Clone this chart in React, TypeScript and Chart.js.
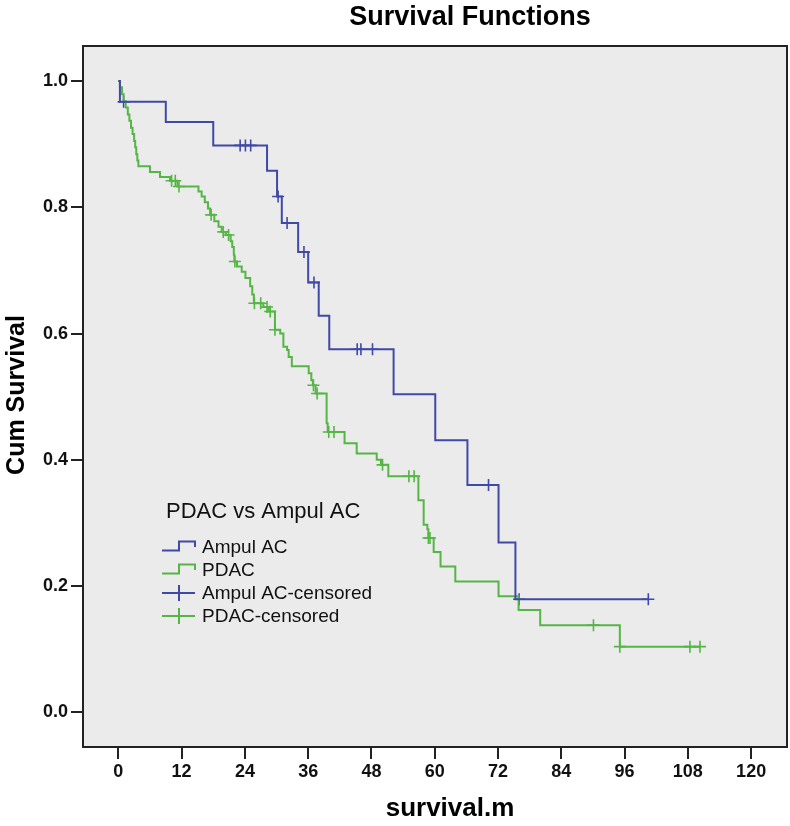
import { useEffect, useRef } from 'react';
import { Chart, registerables } from 'chart.js';

Chart.register(...registerables);

const FONT = "'Liberation Sans', Arial, sans-serif";
const BLUE = '#4049A6';
const GREEN = '#55B545';

const X_TICKS = [0, 12, 24, 36, 48, 60, 72, 84, 96, 108, 120];
const Y_TICKS = [0, 0.2, 0.4, 0.6, 0.8, 1.0];

// Ampul AC: event times (months) and survival after each step
const AMPUL_TIME = [0, 0.3, 9, 18, 28.2, 30.1, 31, 34.1, 36, 38, 40, 52.2, 60.1, 66.2, 72.1, 75.3, 100.5];
const AMPUL_SURV = [1.0, 0.967, 0.935, 0.898, 0.858, 0.817, 0.775, 0.729, 0.681, 0.628, 0.575, 0.504, 0.431, 0.36, 0.269, 0.179, 0.179];
const AMPUL_CENSORED = [1, 23.1, 24.1, 25.1, 30.3, 32, 35.2, 37.1, 45.3, 46, 48.2, 70.2, 76, 100.5];

// PDAC
const PDAC_TIME = [
  0, 0.3, 0.7, 1.0, 1.4, 1.8, 2.1, 2.4, 2.7, 3.0, 3.2, 3.4, 3.6, 3.8, 6.0, 7.9, 9.8, 11.2,
  15.2, 15.8, 16.4, 17.0, 17.4, 18.2, 19.0, 19.6, 20.4, 21.3, 21.6, 21.9, 22.0, 22.5, 23.4,
  24.1, 25.0, 25.4, 25.7, 27.5, 28.5, 29.7, 30.7, 31.3, 32.0, 32.3, 32.9, 36.1, 36.6, 36.9,
  37.4, 39.5, 39.7, 42.9, 45.2, 49.0, 49.8, 51.2, 56.9, 57.9, 58.6, 58.8, 59.8, 61.1, 63.9,
  72.1, 75.9, 80.0, 95.1, 110.3,
];
const PDAC_SURV = [
  1.0, 0.99, 0.979, 0.968, 0.958, 0.947, 0.937, 0.926, 0.916, 0.905, 0.895, 0.884, 0.874, 0.865, 0.856, 0.848, 0.842, 0.833,
  0.825, 0.817, 0.808, 0.798, 0.788, 0.778, 0.769, 0.761, 0.756, 0.746, 0.737, 0.725, 0.714, 0.706, 0.698,
  0.688, 0.675, 0.662, 0.648, 0.642, 0.635, 0.606, 0.6, 0.579, 0.574, 0.563, 0.548, 0.537, 0.526, 0.518,
  0.505, 0.458, 0.444, 0.426, 0.41, 0.4, 0.392, 0.374, 0.336, 0.297, 0.29, 0.276, 0.254, 0.231, 0.207,
  0.184, 0.162, 0.138, 0.104, 0.104,
];
const PDAC_CENSORED = [
  10.1, 10.8, 11.5, 17.6, 19.9, 20.9, 22.1, 25.8, 27.0, 28.2, 28.8, 29.7, 37.0, 37.7, 39.9, 40.9,
  50.1, 55.1, 56.1, 58.8, 59.1, 90.1, 95.1, 108.4, 110.3,
];

const LEGEND_TITLE = 'PDAC vs Ampul AC';
const LEGEND_LABELS = ['Ampul AC', 'PDAC', 'Ampul AC-censored', 'PDAC-censored'];

function survAt(times: number[], surv: number[], t: number) {
  let v = surv[0];
  for (let i = 0; i < times.length; i++) if (times[i] <= t) v = surv[i];
  return v;
}

const framePlugin = {
  id: 'frame',
  beforeDraw(chart: Chart) {
    const { ctx, chartArea: a } = chart;
    ctx.save();
    ctx.fillStyle = '#EBEBEB';
    ctx.fillRect(a.left, a.top, a.right - a.left, a.bottom - a.top);
    ctx.restore();
  },
  afterDraw(chart: Chart) {
    const { ctx, chartArea: a } = chart;
    ctx.save();
    ctx.strokeStyle = '#222';
    ctx.lineWidth = 2;
    ctx.strokeRect(a.left, a.top, a.right - a.left, a.bottom - a.top);

    ctx.fillStyle = '#000';
    ctx.font = `bold 27px ${FONT}`;
    ctx.textAlign = 'center';
    ctx.textBaseline = 'alphabetic';
    ctx.fillText('Survival Functions', 470, 25);
    ctx.font = `bold 26px ${FONT}`;
    ctx.fillText('survival.m', 450, 816);

    ctx.save();
    ctx.translate(24, 395);
    ctx.rotate(-Math.PI / 2);
    ctx.font = `bold 25px ${FONT}`;
    ctx.fillText('Cum Survival', 0, 0);
    ctx.restore();

    // legend
    ctx.textAlign = 'left';
    ctx.textBaseline = 'middle';
    ctx.fillStyle = '#111';
    ctx.font = `22px ${FONT}`;
    ctx.fillText(LEGEND_TITLE, 166, 512);
    ctx.font = `19px ${FONT}`;
    const x0 = 162, x1 = 179, x2 = 195;
    LEGEND_LABELS.forEach((label, i) => {
      const yc = 547 + i * 23;
      const color = i % 2 === 0 ? BLUE : GREEN;
      ctx.strokeStyle = color;
      ctx.lineWidth = 2;
      ctx.beginPath();
      if (i < 2) {
        ctx.moveTo(x0, yc + 3.5);
        ctx.lineTo(x1, yc + 3.5);
        ctx.lineTo(x1, yc - 5.5);
        ctx.lineTo(x2, yc - 5.5);
        ctx.lineTo(x2, yc);
      } else {
        ctx.moveTo(x0, yc);
        ctx.lineTo(x2, yc);
        ctx.moveTo(x1, yc - 8);
        ctx.lineTo(x1, yc + 8);
      }
      ctx.stroke();
      ctx.fillStyle = '#111';
      ctx.fillText(label, 202, yc + 1);
    });
    ctx.restore();
  },
};

export default function App() {
  const ref = useRef<HTMLCanvasElement>(null);
  const chartRef = useRef<Chart | null>(null);

  useEffect(() => {
    document.body.style.margin = '0';
    if (!ref.current) return;
    if (chartRef.current) {
      chartRef.current.destroy();
      chartRef.current = null;
    }
    const ctx = ref.current.getContext('2d');
    if (!ctx) return;

    const line = (times: number[], surv: number[]) => times.map((t, i) => ({ x: t, y: surv[i] }));
    const marks = (cens: number[], times: number[], surv: number[]) =>
      cens.map((t) => ({ x: t, y: survAt(times, surv, t) }));

    const tickFont = { family: FONT, size: 18, weight: 'bold' as const };

    chartRef.current = new Chart(ctx, {
      type: 'line',
      data: {
        datasets: [
          {
            label: 'Ampul AC',
            data: line(AMPUL_TIME, AMPUL_SURV),
            borderColor: BLUE,
            borderWidth: 2,
            pointRadius: 0,
            stepped: true,
            fill: false,
          },
          {
            label: 'PDAC',
            data: line(PDAC_TIME, PDAC_SURV),
            borderColor: GREEN,
            borderWidth: 2,
            pointRadius: 0,
            stepped: true,
            fill: false,
          },
          {
            label: 'Ampul AC-censored',
            data: marks(AMPUL_CENSORED, AMPUL_TIME, AMPUL_SURV),
            showLine: false,
            pointStyle: 'cross',
            pointRadius: 6,
            pointBorderWidth: 1.6,
            pointBorderColor: BLUE,
            borderColor: BLUE,
          },
          {
            label: 'PDAC-censored',
            data: marks(PDAC_CENSORED, PDAC_TIME, PDAC_SURV),
            showLine: false,
            pointStyle: 'cross',
            pointRadius: 6,
            pointBorderWidth: 1.6,
            pointBorderColor: GREEN,
            borderColor: GREEN,
          },
        ],
      },
      options: {
        animation: false,
        responsive: false,
        events: [],
        layout: { autoPadding: false, padding: { top: 46, right: 3, left: 0, bottom: 0 } },
        plugins: { legend: { display: false }, tooltip: { enabled: false }, title: { display: false } },
        scales: {
          x: {
            type: 'linear',
            min: -6.7,
            max: 126.8,
            afterBuildTicks: (axis) => {
              axis.ticks = X_TICKS.map((v) => ({ value: v }));
            },
            afterFit: (axis) => {
              axis.height = 79;
              axis.paddingLeft = 0;
              axis.paddingRight = 0;
            },
            ticks: {
              font: tickFont,
              color: '#111',
              padding: 2,
              maxRotation: 0,
              autoSkip: false,
              callback: (v) => String(v),
            },
            grid: { drawOnChartArea: false, drawTicks: true, tickLength: 12, color: '#222', lineWidth: 2 },
            border: { display: false },
          },
          y: {
            type: 'linear',
            min: -0.055,
            max: 1.0555,
            afterBuildTicks: (axis) => {
              axis.ticks = Y_TICKS.map((v) => ({ value: v }));
            },
            afterFit: (axis) => {
              axis.width = 83;
              axis.paddingTop = 0;
              axis.paddingBottom = 0;
            },
            ticks: {
              font: tickFont,
              color: '#111',
              padding: 3,
              autoSkip: false,
              callback: (v) => Number(v).toFixed(1),
            },
            grid: { drawOnChartArea: false, drawTicks: true, tickLength: 12, color: '#222', lineWidth: 2 },
            border: { display: false },
          },
        },
      },
      plugins: [framePlugin],
    });
    return () => {
      chartRef.current?.destroy();
      chartRef.current = null;
    };
  }, []);

  return (
    <div style={{ width: 790, height: 826, position: 'relative', background: '#fff' }}>
      <canvas ref={ref} width={790} height={826} />
    </div>
  );
}
